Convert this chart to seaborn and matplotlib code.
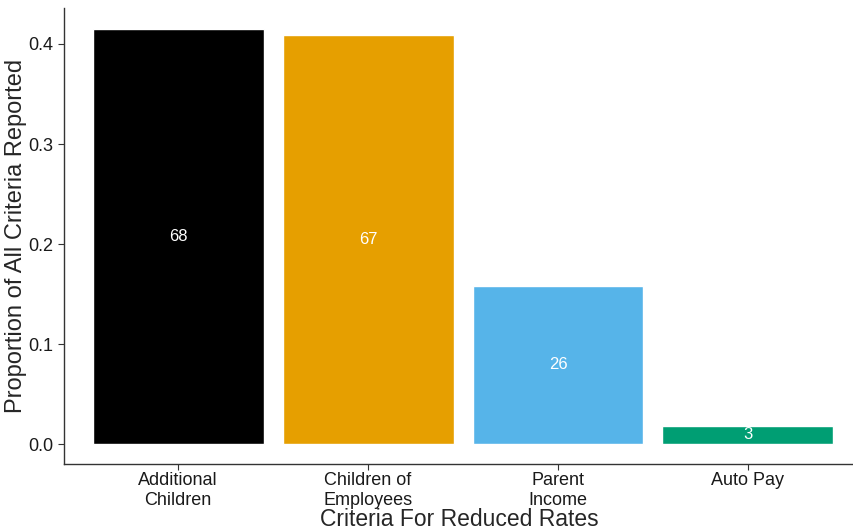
import pandas as pd
import seaborn as sns
import matplotlib.pyplot as plt

# data
criteria = ["Additional\nChildren", "Children of\nEmployees", "Parent\nIncome", "Auto Pay"]
counts = [68, 67, 26, 3]
colors = ["#000000", "#E69F00", "#56B4E9", "#009E73"]

total = sum(counts)
df = pd.DataFrame({"Criteria": criteria, "Count": counts})
df["Proportion"] = df["Count"] / total

sns.set_style("ticks")
plt.rcParams["font.family"] = ["Liberation Sans", "DejaVu Sans"]

fig = plt.figure(figsize=(8.54, 5.31), dpi=100)
ax = fig.add_axes([0.075, 0.126, 0.925, 0.859])

sns.barplot(data=df, x="Criteria", y="Proportion", hue="Criteria",
            palette=colors, width=0.9, saturation=1, legend=False, ax=ax)

# counts written in the middle of each bar
for i, row in df.iterrows():
    ax.text(i, row["Proportion"] / 2, str(row["Count"]), color="white",
            ha="center", va="center", fontsize=12)

ax.set_xlim(-0.6, 3.558)
ax.set_ylim(-0.02, 0.436)
ax.set_yticks([0.0, 0.1, 0.2, 0.3, 0.4])
ax.set_yticklabels(["0.0", "0.1", "0.2", "0.3", "0.4"])
ax.tick_params(axis="both", labelsize=13, color="#333333", length=4, labelcolor="#1a1a1a")
ax.tick_params(axis="x", pad=2)
ax.set_xlabel("Criteria For Reduced Rates", fontsize=16.5, labelpad=-1)
ax.set_ylabel("Proportion of All Criteria Reported", fontsize=17, labelpad=1)

for s in ["top", "right"]:
    ax.spines[s].set_visible(False)
for s in ["left", "bottom"]:
    ax.spines[s].set_color("#333333")
    ax.spines[s].set_linewidth(1.0)

plt.savefig("out.png", dpi=100)
